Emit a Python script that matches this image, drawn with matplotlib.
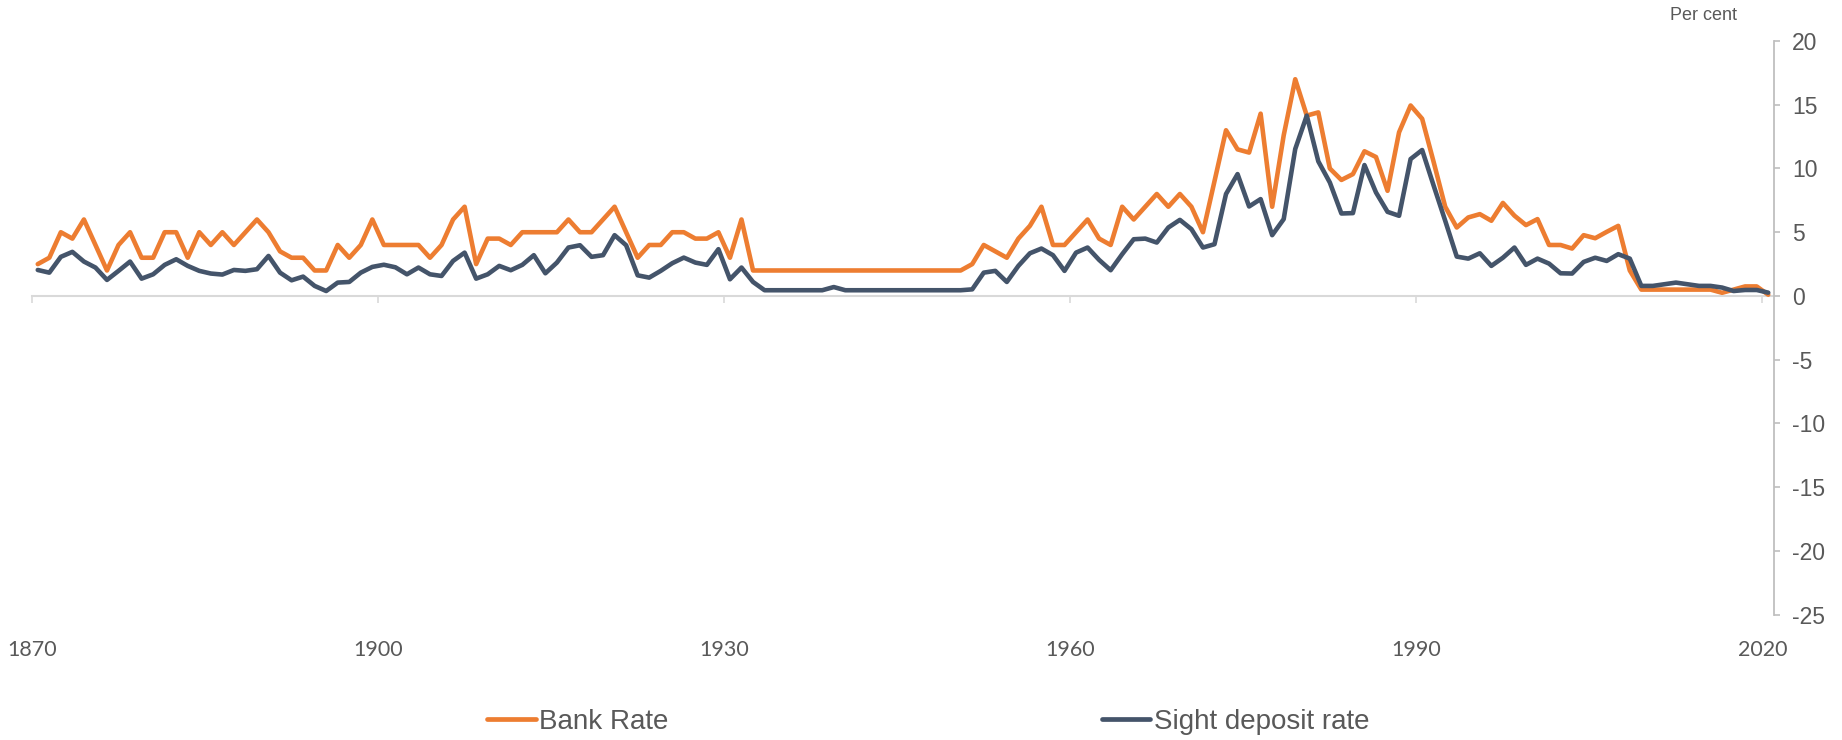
import numpy as np
import matplotlib
matplotlib.use("Agg")
import matplotlib.pyplot as plt

years = np.arange(1870, 2021)

bank_rate = [
    2.5, 3, 5, 4.5, 6, 4, 2, 4, 5, 3,
    3, 5, 5, 3, 5, 4, 5, 4, 5, 6,
    5, 3.5, 3, 3, 2, 2, 4, 3, 4, 6,
    4, 4, 4, 4, 3, 4, 6, 7, 2.5, 4.5,
    4.5, 4, 5, 5, 5, 5, 6, 5, 5, 6,
    7, 5, 3, 4, 4, 5, 5, 4.5, 4.5, 5,
    3, 6, 2, 2, 2, 2, 2, 2, 2, 2,
    2, 2, 2, 2, 2, 2, 2, 2, 2, 2,
    2, 2.5, 4, 3.5, 3, 4.5, 5.5, 7, 4, 4,
    5, 6, 4.5, 4, 7, 6, 7, 8, 7, 8,
    7, 5, 9, 13, 11.5, 11.25, 14.3, 7, 12.6, 17,
    14.15, 14.4, 10, 9.1, 9.56, 11.35, 10.9, 8.25, 12.84, 14.94,
    13.9, 10.5, 7, 5.37, 6.16, 6.42, 5.9, 7.3, 6.3, 5.56,
    6.03, 4, 4, 3.72, 4.77, 4.53, 5.03, 5.5, 2, 0.5,
    0.5, 0.5, 0.5, 0.5, 0.5, 0.5, 0.25, 0.5, 0.75, 0.75,
    0.1,
]

sight_deposit_rate = [
    2.04, 1.83, 3.07, 3.46, 2.7, 2.23, 1.26, 1.97, 2.7, 1.36,
    1.7, 2.44, 2.88, 2.36, 1.97, 1.76, 1.68, 2.04, 1.97, 2.1,
    3.14, 1.83, 1.23, 1.52, 0.79, 0.39, 1.05, 1.1, 1.83, 2.28,
    2.45, 2.25, 1.7, 2.23, 1.7, 1.57, 2.75, 3.4, 1.36, 1.7,
    2.36, 2.02, 2.44, 3.2, 1.78, 2.62, 3.8, 3.98, 3.07, 3.2,
    4.77, 3.98, 1.62, 1.44, 1.97, 2.57, 3.01, 2.62, 2.44, 3.67,
    1.31, 2.23, 1.1, 0.45, 0.45, 0.45, 0.45, 0.45, 0.45, 0.7,
    0.45, 0.45, 0.45, 0.45, 0.45, 0.45, 0.45, 0.45, 0.45, 0.45,
    0.45, 0.52, 1.83, 1.97, 1.1, 2.36, 3.35, 3.72, 3.2, 1.97,
    3.4, 3.8, 2.83, 2.02, 3.28, 4.45, 4.5, 4.19, 5.37, 5.97,
    5.24, 3.8, 4.06, 8.0, 9.56, 7.02, 7.6, 4.77, 6.03, 11.53,
    14.15, 10.56, 8.9, 6.47, 6.5, 10.27, 8.12, 6.6, 6.29, 10.74,
    11.45, 8.65, 5.9, 3.09, 2.93, 3.35, 2.36, 3.0, 3.8, 2.44,
    2.93, 2.54, 1.78, 1.76, 2.67, 3.0, 2.75, 3.28, 2.93, 0.79,
    0.79, 0.92, 1.05, 0.92, 0.79, 0.79, 0.66, 0.39, 0.47, 0.47,
    0.26,
]

x_ticks = [1870, 1900, 1930, 1960, 1990, 2020]
y_ticks = [20, 15, 10, 5, 0, -5, -10, -15, -20, -25]
series_names = ["Bank Rate", "Sight deposit rate"]

ORANGE = "#ED7D31"
DARK = "#44546A"
TEXT = "#595959"

plt.rcParams["font.family"] = ["Liberation Sans", "DejaVu Sans"]
plt.rcParams["axes.unicode_minus"] = False

W, H = 1842, 740
fig = plt.figure(figsize=(W / 100, H / 100), dpi=100)
left, right = 32 / W, 1774 / W
top, bottom = 1 - 41 / H, 1 - 614.7 / H
ax = fig.add_axes([left, bottom, right - left, top - bottom])

xpos = years + 0.5  # annual values plotted at mid-year
l1, = ax.plot(xpos, bank_rate, color=ORANGE, lw=3.3, solid_capstyle="round",
              solid_joinstyle="round", zorder=3)
l2, = ax.plot(xpos, sight_deposit_rate, color=DARK, lw=3.3, solid_capstyle="round",
              solid_joinstyle="round", zorder=4)

ax.set_xlim(1870, 2021)
ax.set_ylim(-25, 20)

# y axis on right
ax.yaxis.tick_right()
ax.set_yticks(y_ticks)
ax.tick_params(axis="y", direction="out", length=4, width=1.2, color="#BFBFBF",
               labelsize=16.5, labelcolor=TEXT, pad=9)
for s in ["left", "top"]:
    ax.spines[s].set_visible(False)
ax.spines["right"].set_color("#BFBFBF")
ax.spines["right"].set_linewidth(1.3)

# zero line with year ticks
ax.spines["bottom"].set_position(("data", 0))
ax.spines["bottom"].set_color("#D9D9D9")
ax.spines["bottom"].set_linewidth(1.5)
ax.spines["bottom"].set_zorder(1)
ax.set_xticks(x_ticks)
ax.tick_params(axis="x", direction="out", length=5, width=1.2, color="#D9D9D9",
               labelbottom=False)

# year labels at the bottom of the plot area
sec = ax.secondary_xaxis("bottom")
sec.set_xticks(x_ticks)
sec.set_xticklabels([str(t) for t in x_ticks], fontfamily=["Lato", "DejaVu Sans"])
sec.tick_params(axis="x", length=0, pad=18, labelsize=15.5, labelcolor=TEXT)
sec.spines["bottom"].set_visible(False)

fig.text(1737 / W, 1 - 16 / H, "Per cent", ha="right", va="center",
         fontsize=13, color=TEXT)

leg = fig.legend([l1, l2], series_names, loc="center left",
                 bbox_to_anchor=(487 / W, 1 - 722 / H), bbox_transform=fig.transFigure,
                 ncol=2, frameon=False, fontsize=20, handlelength=1.75,
                 handletextpad=0.12, columnspacing=15.6, borderpad=0, borderaxespad=0)
for t in leg.get_texts():
    t.set_color(TEXT)
for h in leg.legend_handles:
    h.set_linewidth(3.4)
    h.set_solid_capstyle("round")

fig.savefig("out.png", dpi=100)
